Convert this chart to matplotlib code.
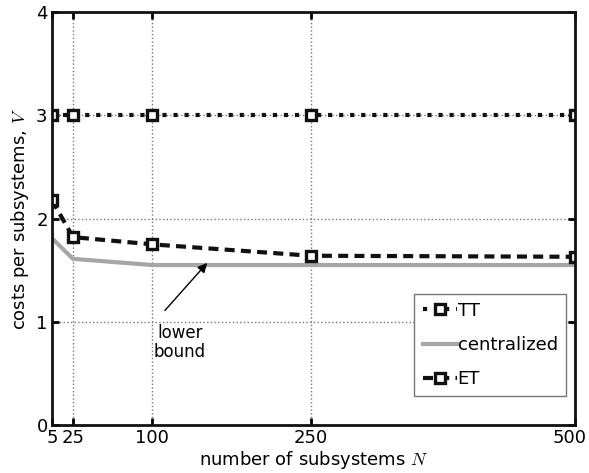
import matplotlib
matplotlib.use("Agg")
import matplotlib.pyplot as plt
import matplotlib.transforms as mtransforms

N = [5, 25, 100, 250, 500]
tt_costs = [3.0, 3.0, 3.0, 3.0, 3.0]
et_costs = [2.18, 1.82, 1.75, 1.64, 1.63]
central_costs = [1.81, 1.61, 1.55, 1.55, 1.55]
x_ticks = [5, 25, 100, 250, 500]
y_ticks = [0, 1, 2, 3, 4]

plt.rcParams['font.family'] = ['DejaVu Sans']
plt.rcParams['mathtext.fontset'] = 'cm'

fig = plt.figure(figsize=(5.89, 4.73), dpi=100)
ax = fig.add_axes([0.088, 0.101, 0.888, 0.874])

mk = dict(marker='s', markersize=7, markerfacecolor='white',
          markeredgecolor='#111111', markeredgewidth=2.4)
ax.plot(N, tt_costs, linestyle=':', color='#111111', linewidth=3, label='TT', **mk)
ax.plot(N, central_costs, linestyle='-', color='#a6a6a6', linewidth=3, label='centralized')
ax.plot(N, et_costs, linestyle='--', color='#111111', linewidth=3, dashes=(2.4, 1.5), label='ET', **mk)

ax.set_xlim(5, 500)
ax.set_ylim(0, 4)
ax.set_xticks(x_ticks)
ax.set_yticks(y_ticks)
ax.tick_params(direction='in', length=5, width=2, labelsize=13, top=True, right=True, pad=3)
for s in ax.spines.values():
    s.set_linewidth(2)
    s.set_color('#111111')

# keep "500" inside the figure edge
last = ax.get_xticklabels()[-1]
last.set_transform(last.get_transform() + mtransforms.ScaledTranslation(-5 / 100, 0, fig.dpi_scale_trans))

for xv in x_ticks[1:-1]:
    ax.axvline(xv, color='#777777', linestyle=':', linewidth=1, zorder=0)
for yv in y_ticks[1:-1]:
    ax.axhline(yv, color='#777777', linestyle=':', linewidth=1, zorder=0)

ax.set_xlabel('number of subsystems $N$', fontsize=13, labelpad=1)
ax.set_ylabel('costs per subsystems, $V$', fontsize=13, labelpad=4)

# lower bound note
ax.text(126, 0.8, 'lower\nbound', fontsize=12, ha='center', va='center', linespacing=1.05)
ax.annotate('', xy=(152, 1.57), xytext=(112, 1.11),
            arrowprops=dict(arrowstyle='-|>', color='black', lw=1, shrinkA=0, shrinkB=0,
                            mutation_scale=14))

leg = ax.legend(loc='lower right', bbox_to_anchor=(0.983, 0.07), fontsize=13,
                handlelength=1.9, handletextpad=0.05, borderpad=0.45, labelspacing=0.9,
                fancybox=False, framealpha=1, edgecolor='#777777', borderaxespad=0)
leg.get_frame().set_linewidth(1)

fig.savefig('out.png', dpi=100)
